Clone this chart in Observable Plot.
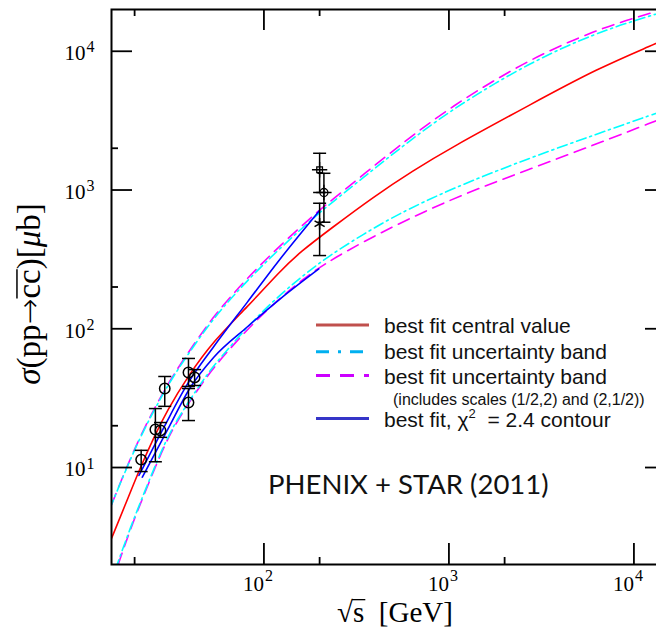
<!DOCTYPE html>
<html><head><meta charset="utf-8">
<script src="https://cdn.jsdelivr.net/npm/d3@7"></script>
<script src="https://cdn.jsdelivr.net/npm/@observablehq/plot@0.6"></script>
<style>
body{margin:0;background:#fff}
#wrap{position:relative;width:656px;height:630px;overflow:hidden;background:#fff}
#overlay{position:absolute;left:0;top:0;pointer-events:none}
svg text{white-space:pre}
</style></head><body><div id="wrap"></div>
<script>
// ---- data ----
const redX = [15, 18.2, 21.5, 25.4, 30.0, 38.5, 53.6, 81.2, 123, 158, 229, 393, 643, 1007, 2760, 6355, 13240, 15000];
const redY = [3.08, 5.79, 10.05, 16.5, 25.8, 44.8, 82.3, 143, 263, 360, 525, 898, 1383, 1992, 4133, 7512, 11380, 12360];

const cyanUpX = [15, 19.8, 25.4, 31.3, 38.5, 53.6, 81.2, 123, 200, 229, 347, 525, 1007, 2760, 6330, 9950, 13240, 15000];
const cyanUpY = [5.4, 13.3, 25.8, 42.4, 64.2, 121, 223, 385, 689, 796, 1237, 1927, 3740, 8400, 13600, 16500, 18600, 19500];
const magUpX = [15, 19.8, 25.4, 31.3, 38.5, 53.6, 81.2, 123, 200, 229, 347, 525, 1007, 2760, 6330, 9950, 13240, 15000];
const magUpY = [5.4, 13.5, 26.3, 43.3, 65.8, 125, 232, 402, 720, 830, 1300, 2030, 3950, 8900, 14300, 17300, 19400, 20400];

const cyanLoX = [16.1, 19.0, 22.4, 26.5, 31.3, 38.5, 49.4, 60.7, 81.2, 113, 158, 224, 347, 525, 1007, 2760, 6330, 13240, 15000];
const cyanLoY = [2.0, 3.71, 6.46, 11.2, 18.5, 28.8, 47.4, 66.0, 103, 160, 235, 335, 483, 665, 1009, 1715, 2533, 3590, 3780];
const magLoX = [16.3, 19.0, 22.4, 26.5, 31.3, 38.5, 49.4, 60.7, 81.2, 113, 158, 229, 525, 1204, 2760, 6330, 13240, 15000];
const magLoY = [2.0, 3.62, 6.3, 10.9, 18.0, 28.2, 46.0, 64.0, 99, 152, 222, 316, 571, 939, 1422, 2154, 3170, 3350];

const blueUpX = [21.1, 28.8, 38.5, 53.6, 81.2, 123, 200];
const blueUpY = [8.76, 19.5, 39.7, 74.5, 155, 321, 712];
const blueLoX = [22.0, 30.0, 40.1, 53.6, 81.2, 123, 198];
const blueLoY = [8.52, 18.5, 37.9, 62.4, 103, 165, 270];

// fixed-target / ISR measurements (open circles)
const lowX  = [21.7, 25.9, 27.6, 29.1, 39.1, 42.2, 39.1];
const lowY  = [11.4, 18.8, 18.5, 37.1, 48.4, 44.6, 29.4];
const lowLo = [9.35, 11.0, 16.5, 27.6, 38.4, 39.0, 21.8];
const lowHi = [13.3, 26.6, 21.1, 45.3, 61.1, 50.8, 37.1];
// RHIC 200 GeV measurements
const rhicX  = [200, 211, 200];
const rhicY  = [1400, 960, 571];
const rhicLo = [960, 586, 337];
const rhicHi = [1840, 1320, 803];

const xMajor = [100, 1000, 10000];
const xMajorExp = ["2", "3", "4"];
const xMinor = [20, 200, 2000];
const yMajor = [10, 100, 1000, 10000];
const yMajorExp = ["1", "2", "3", "4"];
const yMinor = [20, 200, 2000];
const tickBase = "10";

const xLabel = "√s  [GeV]";
const yLabel = "σ(pp→cc)[μb]";
const legendLabels = ["best fit central value", "best fit uncertainty band", "best fit uncertainty band", "(includes scales (1/2,2) and (2,1/2))", "best fit, χ", "2", "  = 2.4 contour"];
const annotation = "PHENIX + STAR (2011)";

// ---- build tables ----
const zipXY = (xs, ys) => xs.map((x, i) => ({x, y: ys[i]}));
const low = lowX.map((x, i) => ({x, y: lowY[i], lo: lowLo[i], hi: lowHi[i]}));
const rhic = rhicX.map((x, i) => ({x, y: rhicY[i], lo: rhicLo[i], hi: rhicHi[i]}));
const pts = low.concat(rhic);

const serif = "Liberation Serif";
const capSym = {draw(ctx, size) { const w = Math.sqrt(size / Math.PI); ctx.moveTo(-w, 0); ctx.lineTo(w, 0); }};
const lineOpts = {x: "x", y: "y", strokeWidth: 1.6, curve: "basis", clip: true};
const FW = 555; // frame size in px

const plot = Plot.plot({
  width: 656, height: 630,
  marginLeft: 111, marginRight: -10, marginTop: 9, marginBottom: 66,
  x: {type: "log", domain: [15, 15000], range: [111, 666], axis: null},
  y: {type: "log", domain: [2, 20000], range: [564, 9], axis: null},
  style: {background: "white"},
  marks: [
    Plot.line(zipXY(magUpX, magUpY), {...lineOpts, stroke: "#ff00ff", strokeDasharray: "12,7"}),
    Plot.line(zipXY(magLoX, magLoY), {...lineOpts, stroke: "#ff00ff", strokeDasharray: "12,7"}),
    Plot.line(zipXY(cyanUpX, cyanUpY), {...lineOpts, stroke: "#00ffff", strokeDasharray: "10,4,2,4", strokeDashoffset: 5}),
    Plot.line(zipXY(cyanLoX, cyanLoY), {...lineOpts, stroke: "#00ffff", strokeDasharray: "10,4,2,4", strokeDashoffset: 5}),
    Plot.line(zipXY(redX, redY), {...lineOpts, stroke: "#ff0000"}),
    Plot.line(zipXY(blueUpX, blueUpY), {...lineOpts, curve: "monotone-x", stroke: "#0000ff"}),
    Plot.line(zipXY(blueLoX, blueLoY), {...lineOpts, curve: "monotone-x", stroke: "#0000ff"}),
    // error bars
    Plot.ruleX(pts, {x: "x", y1: "lo", y2: "hi", stroke: "black", strokeWidth: 1.5}),
    Plot.dot(pts, {x: "x", y: "lo", symbol: capSym, r: 6.5, stroke: "black", strokeWidth: 1.5}),
    Plot.dot(pts, {x: "x", y: "hi", symbol: capSym, r: 6.5, stroke: "black", strokeWidth: 1.5}),
    // markers
    Plot.dot(low, {x: "x", y: "y", r: 5.2, stroke: "black", fill: "none", strokeWidth: 1.5}),
    Plot.dot(rhic.slice(0, 1), {x: "x", y: "y", symbol: "square", r: 3.2, stroke: "black", fill: "none", strokeWidth: 1.3}),
    Plot.dot(rhic.slice(0, 2), {x: "x", y: "y", symbol: "plus", r: 5, stroke: "black", strokeWidth: 1.3}),
    Plot.dot(rhic.slice(1, 2), {x: "x", y: "y", r: 4, stroke: "black", fill: "none", strokeWidth: 1.3}),
    Plot.dot(rhic.slice(2, 3), {x: "x", y: "y", symbol: "asterisk", r: 5.5, stroke: "black", strokeWidth: 1.5}),
    // ticks (inward)
    Plot.ruleX(xMajor, {x: d => d, insetTop: FW - 21, stroke: "black", strokeWidth: 1.8}),
    Plot.ruleX(xMajor, {x: d => d, insetBottom: FW - 21, stroke: "black", strokeWidth: 1.8}),
    Plot.ruleX(xMinor, {x: d => d, insetTop: FW - 7, stroke: "black", strokeWidth: 1.8}),
    Plot.ruleX(xMinor, {x: d => d, insetBottom: FW - 7, stroke: "black", strokeWidth: 1.8}),
    Plot.ruleY(yMajor, {y: d => d, insetRight: FW - 21, stroke: "black", strokeWidth: 1.8}),
    Plot.ruleY(yMajor, {y: d => d, insetLeft: FW - 21, stroke: "black", strokeWidth: 1.8}),
    Plot.ruleY(yMinor, {y: d => d, insetRight: FW - 7, stroke: "black", strokeWidth: 1.8}),
    Plot.ruleY(yMinor, {y: d => d, insetLeft: FW - 7, stroke: "black", strokeWidth: 1.8}),
    Plot.frame({stroke: "black", strokeWidth: 2}),
    // tick labels
    Plot.text(xMajor, {x: d => d, frameAnchor: "bottom", lineAnchor: "middle", text: () => tickBase, textAnchor: "end", dy: 19.5, fontSize: 21, fontFamily: serif, fill: "black"}),
    Plot.text(xMajor, {x: d => d, frameAnchor: "bottom", lineAnchor: "middle", text: (d, i) => xMajorExp[i], textAnchor: "start", dx: 1, dy: 11.5, fontSize: 16, fontFamily: serif, fill: "black"}),
    Plot.text(yMajor, {y: d => d, frameAnchor: "left", lineAnchor: "middle", text: () => tickBase, textAnchor: "end", dx: -26, dy: 2, fontSize: 21, fontFamily: serif, fill: "black"}),
    Plot.text(yMajor, {y: d => d, frameAnchor: "left", lineAnchor: "middle", text: (d, i) => yMajorExp[i], textAnchor: "start", dx: -25, dy: -4, fontSize: 16, fontFamily: serif, fill: "black"}),
    // axis labels
    Plot.text([xLabel], {frameAnchor: "bottom", lineAnchor: "middle", textAnchor: "middle", text: d => d, dx: 6, dy: 48.5, fontSize: 29, fontFamily: serif, fill: "black"}),
    Plot.text([yLabel], {frameAnchor: "left", lineAnchor: "middle", textAnchor: "middle", text: d => d, rotate: -90, dx: -82, dy: 7, fontSize: 33, fontFamily: serif, fill: "black"})
  ]
});

const wrap = document.getElementById("wrap");
wrap.appendChild(plot);

// rich axis labels (italics, overlines drawn from glyph positions)
function findText(str) {
  return d3.select(plot).selectAll("text").filter(function() { return this.textContent === str; });
}
function barOver(node, x0, x1, yy, w) {
  d3.select(node.parentNode).append("path")
    .attr("transform", node.getAttribute("transform"))
    .attr("d", `M${x0},${yy}L${x1},${yy}`)
    .attr("stroke", "black").attr("stroke-width", w).attr("fill", "none");
}
try {
  const ylab = findText(yLabel);
  ylab.text(null);
  ylab.append("tspan").style("font-style", "italic").text("σ");
  ylab.append("tspan").text("(pp");
  ylab.append("tspan").attr("font-family", "DejaVu Sans").attr("font-weight", 200).attr("font-size", 31).text("→");
  ylab.append("tspan").text("cc");
  ylab.append("tspan").text(")[");
  ylab.append("tspan").style("font-style", "italic").text("μ");
  ylab.append("tspan").text("b]");
  const yn = ylab.node();
  const a = yn.getStartPositionOfChar(5), b = yn.getEndPositionOfChar(6);
  barOver(yn, a.x, b.x, a.y - 0.7 * 33, 1.5);
} catch (e) { console.log(e); }
try {
  const xlab = findText(xLabel);
  xlab.text(null);
  xlab.append("tspan").text("√s");
  xlab.append("tspan").text("  [GeV]");
  const xn = xlab.node();
  const a = xn.getEndPositionOfChar(0), b = xn.getEndPositionOfChar(1);
  barOver(xn, a.x - 1, b.x + 1, a.y - 0.78 * 29, 1.3);
} catch (e) { console.log(e); }

// ---- legend and annotation overlay ----
const ov = d3.select(wrap).append("svg").attr("id", "overlay").attr("width", 656).attr("height", 630);
const sw = [
  {y: 325, color: "#c0504d", dash: null},
  {y: 351.7, color: "#00b0f0", dash: "13,9,3,9"},
  {y: 375.5, color: "#cc00ff", dash: "14,10"},
  {y: 418.5, color: "#3535c8", dash: null}
];
sw.forEach(s => ov.append("line").attr("x1", 316).attr("x2", 369).attr("y1", s.y).attr("y2", s.y)
  .attr("stroke", s.color).attr("stroke-width", 3).attr("stroke-dasharray", s.dash));
const lf = "Liberation Sans";
const lt = (x, y, size) => ov.append("text").attr("x", x).attr("y", y).attr("font-family", lf).attr("font-size", size).attr("fill", "#111");
lt(384, 332.5, 21).text(legendLabels[0]);
lt(384, 359, 21).text(legendLabels[1]);
lt(384, 383.5, 21).text(legendLabels[2]);
lt(393, 404.5, 16).text(legendLabels[3]);
const last = lt(384, 427, 21);
last.append("tspan").text(legendLabels[4]);
last.append("tspan").attr("dy", -9).attr("font-size", 13).text(legendLabels[5]);
last.append("tspan").attr("dy", 9).text(legendLabels[6]);

ov.append("text").attr("x", 268).attr("y", 494).attr("font-family", "Lato").attr("font-size", 27.5).attr("fill", "#111").text(annotation);
</script></body></html>
